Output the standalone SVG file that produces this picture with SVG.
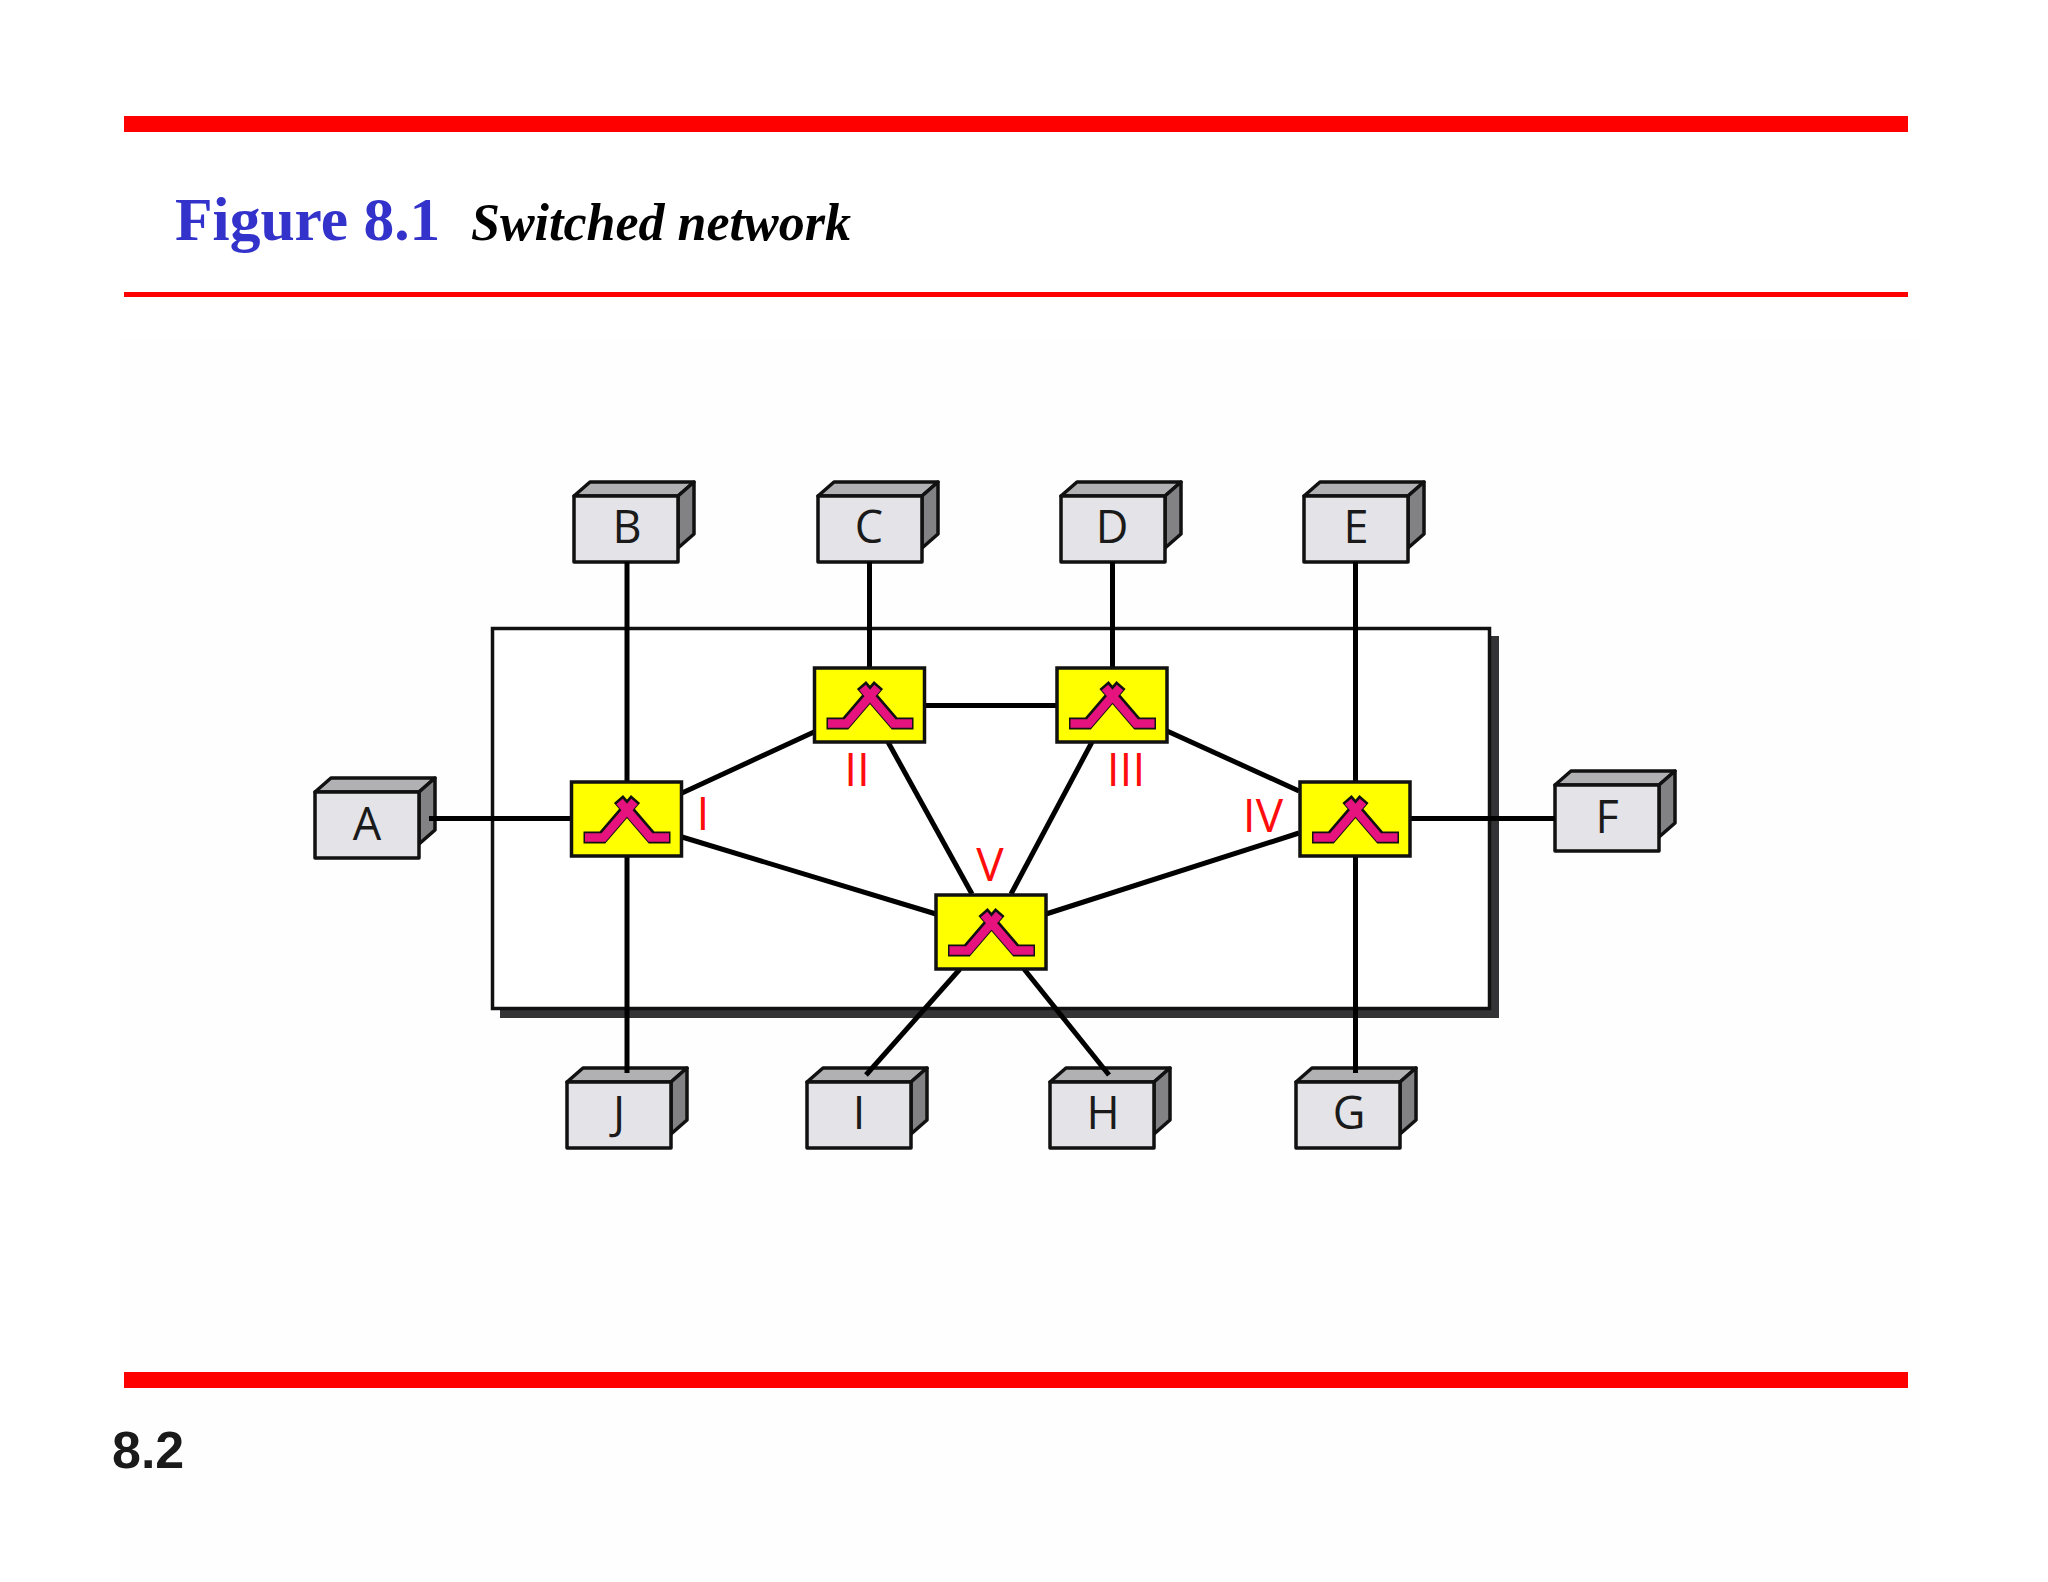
<svg xmlns="http://www.w3.org/2000/svg" width="2048" height="1582" viewBox="0 0 2048 1582">
<style>
.bar{fill:#ff0000}
.edge{fill:none;stroke:#000;stroke-width:5}
.front{fill:#e4e3e7;stroke:#111;stroke-width:3.500;stroke-linejoin:round}
.top{fill:#b1b1b3;stroke:#111;stroke-width:3.500;stroke-linejoin:round}
.side{fill:#828284;stroke:#111;stroke-width:3.500;stroke-linejoin:round}
.sw{fill:#ffff00;stroke:#111;stroke-width:3.500}
.lab{font-family:"Open Sans","Noto Sans",sans-serif;font-size:45px;fill:#1a1a1a;text-anchor:middle}
.rom{font-family:"Open Sans","Noto Sans",sans-serif;font-size:46px;fill:#ff0d0d;text-anchor:middle}
</style>
<defs>
<g id="glyph">
<path d="M12 55.500H31L64 17M99 55.500H80L47 17" fill="none" stroke="#111" stroke-width="12" stroke-linejoin="miter"/>
<path d="M13.500 55.500H32L63 19.500M97.500 55.500H79L48 19.500" fill="none" stroke="#e6127d" stroke-width="8.500" stroke-linejoin="miter"/>
</g>
<g id="box">
<path class="top" d="M0 14L16 0H120L104 14Z"/>
<path class="side" d="M104 14L120 0V52L104 66Z"/>
<rect class="front" x="0" y="14" width="104" height="66"/>
</g>
</defs>
<rect width="2048" height="1582" fill="#ffffff"/>
<rect x="120" y="340" width="1800" height="1242" fill="#fefefe"/>
<g id="frame">
<rect x="124" y="116" width="1784" height="16" class="bar"/>
<rect x="124" y="292" width="1784" height="5" class="bar"/>
<rect x="124" y="1372" width="1784" height="16" class="bar"/>
<text x="175" y="240" font-family="'Liberation Serif',serif" font-weight="700" font-size="61.500" fill="#3333cc">Figure 8.1</text>
<text x="471" y="240" font-family="'Liberation Serif',serif" font-weight="700" font-style="italic" font-size="52" fill="#000">Switched network</text>
<text x="112" y="1468" font-family="'Liberation Sans',sans-serif" font-weight="700" font-size="52" fill="#1a1a1a">8.2</text>
</g>
<g id="network">
<rect x="500" y="636" width="999" height="382" fill="#333336"/>
<rect x="492.500" y="628.500" width="997" height="380" fill="#fff" stroke="#111" stroke-width="3.500"/>
</g>
<g id="node-A"><use href="#box" x="315" y="778"/><text class="lab" x="367" y="840">A</text></g>
<g id="node-B"><use href="#box" x="574" y="482"/><text class="lab" x="627" y="543">B</text></g>
<g id="node-C"><use href="#box" x="818" y="482"/><text class="lab" x="869" y="543">C</text></g>
<g id="node-D"><use href="#box" x="1061" y="482"/><text class="lab" x="1112" y="543">D</text></g>
<g id="node-E"><use href="#box" x="1304" y="482"/><text class="lab" x="1356" y="543">E</text></g>
<g id="node-F"><use href="#box" x="1555" y="771"/><text class="lab" x="1607" y="833">F</text></g>
<g id="node-G"><use href="#box" x="1296" y="1068"/><text class="lab" x="1349" y="1129">G</text></g>
<g id="node-H"><use href="#box" x="1050" y="1068"/><text class="lab" x="1103" y="1129">H</text></g>
<g id="node-I"><use href="#box" x="807" y="1068"/><text class="lab" x="859" y="1129">I</text></g>
<g id="node-J"><use href="#box" x="567" y="1068"/><text class="lab" x="619" y="1129">J</text></g>
<g id="connectors" class="edge">
<path d="M429 818.500H571"/>
<path d="M1410 818.500H1555"/>
<path d="M627 562V782"/>
<path d="M627 856V1073"/>
<path d="M869.500 562V668"/>
<path d="M1112.500 562V668"/>
<path d="M1355.500 562V782"/>
<path d="M1355.500 856V1073"/>
<path d="M925 705.500H1056"/>
<path d="M682 793L814 732"/>
<path d="M682 837L936 914"/>
<path d="M1046 914L1299 833"/>
<path d="M888 742L972 894"/>
<path d="M1092 742L1011 894"/>
<path d="M1167 731L1299 791"/>
<path d="M960 969L866 1075"/>
<path d="M1024 969L1109 1075"/>
</g>
<g id="switch-I"><rect class="sw" x="571.500" y="782" width="110" height="74"/><use href="#glyph" x="571.500" y="782"/><text class="rom" x="703" y="830">I</text></g>
<g id="switch-II"><rect class="sw" x="814.500" y="668" width="110" height="74"/><use href="#glyph" x="814.500" y="668"/><text class="rom" x="857" y="786">II</text></g>
<g id="switch-III"><rect class="sw" x="1057" y="668" width="110" height="74"/><use href="#glyph" x="1057" y="668"/><text class="rom" x="1126" y="786">III</text></g>
<g id="switch-IV"><rect class="sw" x="1300" y="782" width="110" height="74"/><use href="#glyph" x="1300" y="782"/><text class="rom" x="1263" y="832">IV</text></g>
<g id="switch-V"><rect class="sw" x="936" y="895" width="110" height="74"/><use href="#glyph" x="936" y="895"/><text class="rom" x="990" y="881">V</text></g>
</svg>
